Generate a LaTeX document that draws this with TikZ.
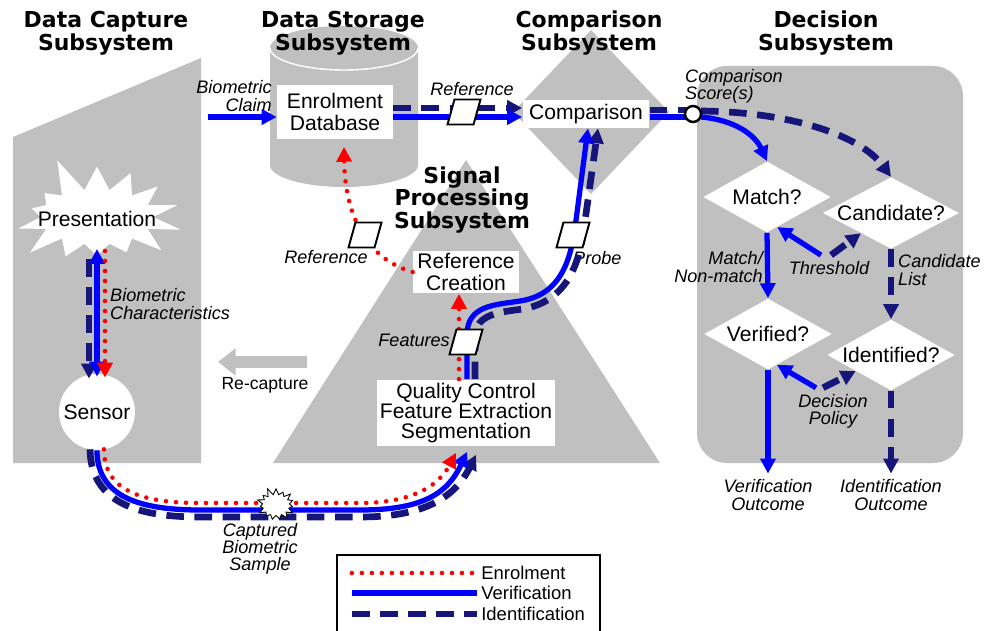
\documentclass[tikz,border=0pt]{standalone}
\usepackage{fontspec}
\setmainfont{Liberation Sans}
\newfontfamily\titlefont{DejaVu Sans}
\usetikzlibrary{arrows.meta, calc, shapes.geometric, shapes.symbols}
\definecolor{panel gray}{RGB}{192,192,192}
\definecolor{id navy}{RGB}{22,22,122}

\begin{document}
\begin{tikzpicture}[x=0.02cm, y=-0.02cm, font=\fontsize{12}{12.5}\selectfont,
    ttl/.style={font=\titlefont\bfseries\fontsize{12.5}{13}\selectfont, align=center},
    lbl/.style={font=\itshape\fontsize{10.3}{9.8}\selectfont},
    box/.style={fill=white, inner sep=0pt, align=center},
    dec/.style={diamond, fill=white, aspect=1.9, inner sep=0pt, text height=1.6ex, text depth=0pt, minimum width=2.55cm, minimum height=1.42cm},
    datum/.style={trapezium, trapezium left angle=70, trapezium right angle=110, trapezium stretches=true, draw, fill=white, line width=1.1pt, minimum width=0.66cm, minimum height=0.5cm, inner sep=2pt},
    enrol/.style={red, line width=2.6pt, dash pattern=on 0pt off 5.7pt, line cap=round},
    verif/.style={blue, line width=3pt},
    ident/.style={id navy, line width=3.8pt, dash pattern=on 10pt off 6pt},
    fwd/.style={-{Triangle[length=8.5pt, width=8.5pt]}}]
  \clip (0,0) rectangle (986,631);

  % subsystem backgrounds
  \fill[panel gray] (13,137) -- (201,58) -- (201,463) -- (13,463) -- cycle;
  \fill[panel gray] (270,48) -- (270,165) .. controls (270,177) and (303,187) .. (344,187) .. controls (385,187) and (418,177) .. (418,165) -- (418,48) .. controls (418,36) and (385,26) .. (344,26) .. controls (303,26) and (270,36) .. (270,48) -- cycle;
  \draw[white, line width=0.8pt] (270,48) .. controls (270,60) and (303,70) .. (344,70) .. controls (385,70) and (418,60) .. (418,48);
  \fill[panel gray] (513,112) -- (591,30) -- (669,112) -- (591,194) -- cycle;
  \fill[panel gray] (273,463) -- (466,160) -- (660,463) -- cycle;
  \fill[panel gray, rounded corners=0.6cm] (697,66) rectangle (963,463);

  \node[ttl] (capttl) at (106,33) {Data Capture\\Subsystem};
  \node[ttl] (storttl) at (343,33) {Data Storage\\Subsystem};
  \node[ttl] (cmpttl) at (589,33) {Comparison\\Subsystem};
  \node[ttl] (decttl) at (826,33) {Decision\\Subsystem};
  \node[ttl] (sigttl) at (462,200) {Signal\\Processing\\Subsystem};

  % process boxes
  \node[starburst, fill=white, starburst points=14, starburst point height=0.75cm, random starburst=5, minimum width=3.75cm, minimum height=2.6cm, inner sep=0pt] (burst) at (97,217) {};
  \node (pres) at (97,219) {Presentation};
  \node[circle, fill=white, minimum size=1.52cm, inner sep=0pt] (sensor) at (97,412) {Sensor};
  \node[box, minimum width=2.32cm, minimum height=1.1cm] (db) at (335,112) {Enrolment\\Database};
  \node[box, minimum width=2.54cm, minimum height=0.56cm] (cmp) at (586,114) {Comparison};
  \node[box, minimum width=2.12cm, minimum height=0.86cm] (rc) at (466,272) {Reference\\Creation};
  \node[box, minimum width=3.58cm, minimum height=1.34cm, font=\fontsize{12}{11.5}\selectfont] (qc) at (466,413) {Quality Control\\Feature Extraction\\Segmentation};
  \node[dec] (match) at (767,197) {Match?};
  \node[dec] (candidate) at (891,213) {Candidate?};
  \node[dec] (verified) at (768,334) {Verified?};
  \node[dec] (identified) at (891,355) {Identified?};

  \coordinate (claim) at (208,117);
  \coordinate (score) at (693,114);

  % labels
  \node[lbl, align=right, anchor=east] (claimlbl) at (278,96) {Biometric\\Claim};
  \node[lbl, align=left, anchor=west] (charlbl) at (104,304) {Biometric\\Characteristics};
  \node[lbl] (reflbl) at (472,89) {Reference};
  \node[lbl] (reflbl2) at (326,257) {Reference};
  \node[lbl, align=left, anchor=west] (scorelbl) at (679,86) {Comparison\\Score(s)};
  \node[lbl, anchor=east] (featlbl) at (456,340) {Features};
  \node[lbl, anchor=west] (probelbl) at (567,258) {Probe};
  \node[lbl, align=right, anchor=east] (mnlbl) at (769,267) {Match/\\Non-match};
  \node[lbl, align=left, anchor=west] (candlbl) at (892,270) {Candidate\\List};
  \node[lbl] (thr) at (829,268) {Threshold};
  \node[lbl, align=center] (pol) at (833,411) {Decision\\Policy};
  \node[lbl, align=center] (vout) at (768,495) {Verification\\Outcome};
  \node[lbl, align=center] (iout) at (891,495) {Identification\\Outcome};
  \node[lbl, align=center] (samplbl) at (260,549) {Captured\\Biometric\\Sample};
  \node[font=\fontsize{10}{10}\selectfont] (recap) at (265,385) {Re-capture};

  % capture
  \draw[verif, fwd] (claim) -- (claim -| db.west);
  \draw[ident, fwd] ($(pres.south)+(-8,26)$) -- ($(sensor.north)+(-8,5)$);
  \draw[verif, {Triangle[length=8.5pt, width=8.5pt]}-{Triangle[length=8.5pt, width=8.5pt]}] ($(pres.south)+(0,16)$) -- ($(sensor.north)+(0,3)$);
  \draw[enrol, fwd] ($(pres.south)+(8,18)$) -- ($(sensor.north)+(8,4)$);
  \draw[panel gray, line width=6.5pt, -{Triangle[length=10pt, width=15pt]}] ($(recap.north)+(42,-9)$) -- ($(recap.north)+(-47,-9)$);

  % sample to signal processing
  \draw[ident, fwd] ($(sensor.south)+(-7,-1)$) .. controls (91,504) and (140,517) .. (200,517) -- (360,517) .. controls (425,517) and (455,497) .. ($(qc.south)+(10,8)$);
  \draw[verif, fwd] (sensor.south) .. controls (97,497) and (140,510) .. (200,510) -- (360,510) .. controls (420,510) and (447,495) .. ($(qc.south)+(1,5)$);
  \draw[enrol, fwd] ($(sensor.south)+(7,-1)$) .. controls (104,490) and (140,503) .. (200,503) -- (360,503) .. controls (410,503) and (438,487) .. ($(qc.south)+(-10,6)$);

  % signal processing
  \draw[enrol, fwd] ($(qc.north)+(-7,0)$) -- ($(rc.south)+(-7,0)$);
  \draw[enrol, fwd] (rc.west) .. controls (370,260) and (345,220) .. ($(db.south)+(9,7)$);
  \draw[ident, fwd] ($(qc.north)+(9,0)$) -- (475,337) .. controls (475,314) and (500,312) .. (523,309) .. controls (566,301) and (579,266) .. (584,228) -- ($(cmp.south)+(12,0)$);
  \draw[verif, fwd] ($(qc.north)+(1,0)$) -- (467,335) .. controls (467,305) and (495,305) .. (520,301) .. controls (560,295) and (570,262) .. (575,228) -- ($(cmp.south)+(2,0)$);

  % storage and comparison
  \draw[ident, fwd] ($(db.east)+(0,-4)$) -- ($(cmp.west)+(0,-6)$);
  \draw[verif, fwd] ($(db.east)+(0,5)$) -- ($(cmp.west)+(0,3)$);
  \draw[ident] ($(cmp.east)+(0,-4)$) -- ($(score)+(0,-4)$);
  \draw[verif] ($(cmp.east)+(0,3)$) -- ($(score)+(0,3)$);
  \draw[ident, fwd] ($(score)+(8,-3)$) .. controls (790,112) and (860,135) .. (candidate.north);
  \draw[verif, fwd] ($(score)+(8,3)$) .. controls (735,120) and (755,135) .. (match.north);

  % decision
  \draw[verif, fwd] (match.south) -- (verified.north);
  \draw[ident, fwd] (candidate.south) -- (identified.north);
  \draw[verif, fwd] ($(thr.north)+(-8,0)$) -- ($(match.south)!0.16!(match.east)$);
  \draw[ident, fwd] ($(thr.north)+(2,0)$) -- ($(candidate.south)!0.44!(candidate.west)$);
  \draw[verif, fwd] ($(pol.north)+(-17,0)$) -- ($(verified.south)!0.14!(verified.east)$);
  \draw[ident, fwd] ($(pol.north)+(-10,0)$) -- ($(identified.south)!0.55!(identified.west)$);
  \draw[verif, fwd] (verified.south) -- (vout.north);
  \draw[ident, fwd] (identified.south) -- (iout.north);

  % data items on top of the flows
  \node[datum] (refdb) at (464,112) {};
  \node[datum] (refrc) at (365,235) {};
  \node[datum] (feat) at (466,342) {};
  \node[datum] (probe) at (573,235) {};
  \node[circle, draw, fill=white, line width=1.4pt, minimum size=0.32cm, inner sep=0pt] (scorept) at (score) {};
  \node[starburst, draw, fill=white, line width=0.5pt, starburst points=15, starburst point height=0.15cm, random starburst=11, minimum width=0.84cm, minimum height=0.72cm, inner sep=0pt] (samp) at (276,505) {};

  % legend
  \draw[line width=0.8pt] (337,555) rectangle (600,660);
  \node[anchor=west, inner sep=0pt, font=\fontsize{10.5}{10.5}\selectfont] (lgen) at (481,573) {Enrolment};
  \node[anchor=west, inner sep=0pt, font=\fontsize{10.5}{10.5}\selectfont] (lgver) at (481,593) {Verification};
  \node[anchor=west, inner sep=0pt, font=\fontsize{10.5}{10.5}\selectfont] (lgid) at (481,614) {Identification};
  \draw[enrol] ($(lgen.west)+(-9,0)$) -- ++(-125,0);
  \draw[verif] ($(lgver.west)+(-4,0)$) -- ++(-125,0);
  \draw[ident] ($(lgid.west)+(-129,0)$) -- ++(125,0);
\end{tikzpicture}
\end{document}
